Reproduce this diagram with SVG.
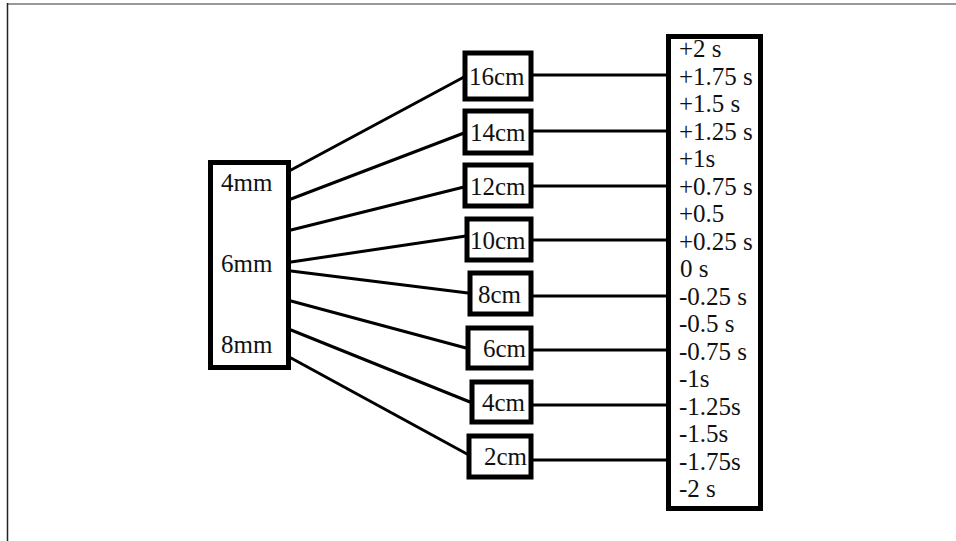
<svg xmlns="http://www.w3.org/2000/svg" width="956" height="541" viewBox="0 0 956 541">
  <style>
    .box { fill: #ffffff; stroke: #000000; stroke-width: 5; }
    .wire { stroke: #000000; stroke-width: 3; fill: none; stroke-linecap: round; }
    text.lbl { font-family: 'Liberation Serif', 'DejaVu Serif', serif; font-size: 25px; fill: #111111; }
  </style>
  <rect x="0" y="0" width="956" height="541" fill="#ffffff"/>
  <!-- page frame -->
  <line x1="7" y1="4" x2="956" y2="4" stroke="#777777" stroke-width="1.5"/>
  <line x1="7.5" y1="3" x2="7.5" y2="541" stroke="#222222" stroke-width="1.5"/>

  <!-- connectors -->
  <g id="connectors" class="wire">
    <line x1="291" y1="170" x2="464" y2="77"/>
    <line x1="291" y1="199" x2="464" y2="133"/>
    <line x1="291" y1="230" x2="464" y2="187"/>
    <line x1="291" y1="262" x2="466" y2="236"/>
    <line x1="291" y1="271" x2="468" y2="293"/>
    <line x1="291" y1="301" x2="466" y2="348"/>
    <line x1="291" y1="330" x2="470" y2="402"/>
    <line x1="291" y1="358" x2="467" y2="454"/>
    <line x1="533" y1="75" x2="667" y2="75"/>
    <line x1="533" y1="131" x2="667" y2="131"/>
    <line x1="533" y1="186" x2="667" y2="186"/>
    <line x1="533" y1="240" x2="667" y2="240"/>
    <line x1="533" y1="296" x2="667" y2="296"/>
    <line x1="533" y1="350" x2="667" y2="350"/>
    <line x1="533" y1="405" x2="667" y2="405"/>
    <line x1="533" y1="460" x2="667" y2="460"/>
  </g>

  <!-- diameter box -->
  <g id="diameters">
    <rect class="box" x="210.5" y="162.5" width="78" height="205"/>
    <text class="lbl" x="221" y="191">4mm</text>
    <text class="lbl" x="221" y="272">6mm</text>
    <text class="lbl" x="221" y="353">8mm</text>
  </g>

  <!-- length boxes -->
  <g id="len16"><rect class="box" x="465" y="53" width="66" height="46"/><text class="lbl" x="469" y="85">16cm</text></g>
  <g id="len14"><rect class="box" x="465" y="111" width="66" height="42"/><text class="lbl" x="470" y="141">14cm</text></g>
  <g id="len12"><rect class="box" x="465" y="165" width="66" height="41"/><text class="lbl" x="470" y="195">12cm</text></g>
  <g id="len10"><rect class="box" x="467" y="219" width="64" height="41"/><text class="lbl" x="470" y="249">10cm</text></g>
  <g id="len8"><rect class="box" x="470" y="273" width="61" height="41"/><text class="lbl" x="478" y="303">8cm</text></g>
  <g id="len6"><rect class="box" x="468" y="328" width="63" height="40"/><text class="lbl" x="483" y="357">6cm</text></g>
  <g id="len4"><rect class="box" x="472" y="382" width="59" height="40"/><text class="lbl" x="482" y="411">4cm</text></g>
  <g id="len2"><rect class="box" x="469" y="436" width="62" height="41"/><text class="lbl" x="484" y="465">2cm</text></g>

  <!-- time offsets -->
  <g id="offsets">
    <rect class="box" x="668.5" y="36.5" width="92" height="472"/>
    <text class="lbl" x="679" y="57">+2 s</text>
    <text class="lbl" x="679" y="84.5">+1.75 s</text>
    <text class="lbl" x="679" y="112">+1.5 s</text>
    <text class="lbl" x="679" y="139.5">+1.25 s</text>
    <text class="lbl" x="679" y="167">+1s</text>
    <text class="lbl" x="679" y="194.5">+0.75 s</text>
    <text class="lbl" x="679" y="222">+0.5</text>
    <text class="lbl" x="679" y="249.5">+0.25 s</text>
    <text class="lbl" x="680" y="277">0 s</text>
    <text class="lbl" x="679" y="304.5">-0.25 s</text>
    <text class="lbl" x="679" y="332">-0.5 s</text>
    <text class="lbl" x="679" y="359.5">-0.75 s</text>
    <text class="lbl" x="679" y="387">-1s</text>
    <text class="lbl" x="679" y="414.5">-1.25s</text>
    <text class="lbl" x="679" y="442">-1.5s</text>
    <text class="lbl" x="679" y="469.5">-1.75s</text>
    <text class="lbl" x="679" y="497">-2 s</text>
  </g>
</svg>
